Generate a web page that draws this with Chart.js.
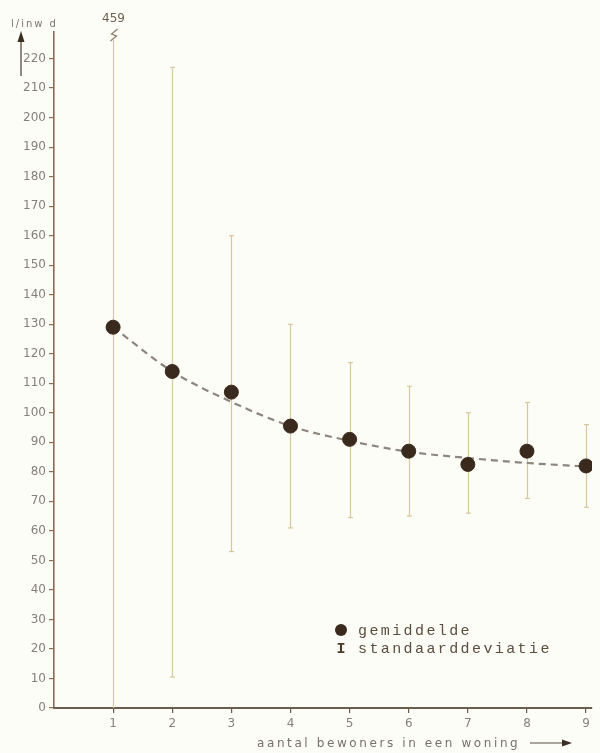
<!DOCTYPE html>
<html>
<head>
<meta charset="utf-8">
<script src="https://cdn.jsdelivr.net/npm/chart.js@4.4.1/dist/chart.umd.min.js"></script>
<style>
  html, body { margin: 0; padding: 0; background: #fdfdf8; }
  #wrap { position: relative; width: 600px; height: 753px; }
</style>
</head>
<body>
<div id="wrap"><canvas id="c" width="600" height="753"></canvas></div>
<script>
// Water use per inhabitant per day, by number of residents in a dwelling
const residents   = [1, 2, 3, 4, 5, 6, 7, 8, 9];
const meanUse     = [129, 114, 107, 95.5, 91, 87, 82.5, 87, 82];
const sdUpper     = [459, 217, 160, 130, 117, 109, 100, 103.5, 96];
const sdLower     = [0, 10.5, 53, 61, 64.5, 65, 66, 71, 68];
const trendLine   = [129, 114, 103.7, 95.5, 90.5, 86.8, 84.7, 83, 81.8];
const yTickValues = [0, 10, 20, 30, 40, 50, 60, 70, 80, 90, 100, 110, 120, 130, 140, 150, 160, 170, 180, 190, 200, 210, 220];
const xTickValues = [1, 2, 3, 4, 5, 6, 7, 8, 9];

const yAxisLabel = 'l/inw d';
const xAxisLabel = 'aantal bewoners in een woning';
const legendMean = 'gemiddelde';
const legendSd   = 'standaarddeviatie';

const ink      = '#3a2a1e';
const barColor = '#d6c79c';
const tickGray = '#86807a';

// Vertical standard-deviation bars, clipped at the top of the plot with a break mark
const errorBars = {
  id: 'errorBars',
  beforeDatasetsDraw(chart) {
    const { ctx, chartArea, scales: { x, y } } = chart;
    ctx.save();
    ctx.strokeStyle = barColor;
    ctx.lineWidth = 1.2;
    residents.forEach((r, i) => {
      const px = Math.round(x.getPixelForValue(r)) + 0.5;
      const clipped = sdUpper[i] > y.max;
      const top = clipped ? chartArea.top + 8 : y.getPixelForValue(sdUpper[i]);
      const bot = y.getPixelForValue(Math.max(sdLower[i], y.min));
      ctx.beginPath();
      ctx.moveTo(px, top);
      ctx.lineTo(px, bot);
      ctx.stroke();
      if (!clipped) {
        ctx.beginPath();
        ctx.moveTo(px - 2.5, top); ctx.lineTo(px + 2.5, top);
        ctx.stroke();
      } else {
        // break mark and the true value written above it
        ctx.save();
        ctx.strokeStyle = '#8a7a66';
        ctx.lineWidth = 1.2;
        ctx.beginPath();
        ctx.moveTo(px - 3, top + 1);
        ctx.lineTo(px + 3, top - 4);
        ctx.lineTo(px - 2, top - 6);
        ctx.lineTo(px + 4, top - 11);
        ctx.stroke();
        ctx.fillStyle = '#6d5f50';
        ctx.font = '12px "DejaVu Sans"';
        ctx.textAlign = 'center';
        ctx.textBaseline = 'middle';
        ctx.fillText(String(sdUpper[i]), px, top - 21);
        ctx.restore();
      }
      if (sdLower[i] > y.min) {
        ctx.beginPath();
        ctx.moveTo(px - 2.5, bot); ctx.lineTo(px + 2.5, bot);
        ctx.stroke();
      }
    });
    ctx.restore();
  }
};

// Axis captions, arrows and the legend box
const annotations = {
  id: 'annotations',
  afterDraw(chart) {
    const { ctx } = chart;
    ctx.save();
    // y-axis caption with upward arrow
    ctx.fillStyle = '#7d746a';
    ctx.font = '10px "DejaVu Sans"';
    ctx.textBaseline = 'middle';
    ctx.textAlign = 'left';
    ctx.letterSpacing = '2px';
    ctx.fillText(yAxisLabel, 11, 24);
    ctx.strokeStyle = '#4a3c30';
    ctx.fillStyle = '#3a2e24';
    ctx.lineWidth = 1.2;
    ctx.beginPath();
    ctx.moveTo(21, 40); ctx.lineTo(21, 76);
    ctx.stroke();
    ctx.beginPath();
    ctx.moveTo(21, 31); ctx.lineTo(17.5, 42); ctx.lineTo(24.5, 42); ctx.closePath();
    ctx.fill();

    // x-axis caption with arrow
    ctx.fillStyle = '#77706a';
    ctx.font = '12px "DejaVu Sans"';
    ctx.letterSpacing = '2.6px';
    ctx.fillText(xAxisLabel, 257, 744);
    ctx.strokeStyle = '#5a4c40';
    ctx.lineWidth = 1.2;
    ctx.beginPath();
    ctx.moveTo(530, 743); ctx.lineTo(566, 743);
    ctx.stroke();
    ctx.fillStyle = '#3a2e24';
    ctx.beginPath();
    ctx.moveTo(572, 743); ctx.lineTo(562, 739.5); ctx.lineTo(562, 746.5); ctx.closePath();
    ctx.fill();

    // legend
    ctx.fillStyle = ink;
    ctx.beginPath();
    ctx.arc(341, 630, 6, 0, Math.PI * 2);
    ctx.fill();
    ctx.font = '15px "Liberation Mono"';
    ctx.letterSpacing = '2.4px';
    ctx.fillStyle = '#5b4d40';
    ctx.fillText(legendMean, 358, 631);
    ctx.fillText(legendSd, 358, 649);
    ctx.font = 'bold 15px "Liberation Mono"';
    ctx.letterSpacing = '0px';
    ctx.fillStyle = '#4a3c30';
    ctx.textAlign = 'center';
    ctx.fillText('I', 341, 649);
    ctx.restore();
  }
};

new Chart(document.getElementById('c'), {
  type: 'scatter',
  data: {
    datasets: [
      {
        label: 'trend',
        data: residents.map((r, i) => ({ x: r, y: trendLine[i] })),
        showLine: true,
        borderColor: '#8d867e',
        borderWidth: 2.2,
        borderDash: [7, 5],
        cubicInterpolationMode: 'monotone',
        pointRadius: 0,
        order: 2
      },
      {
        label: legendMean,
        data: residents.map((r, i) => ({ x: r, y: meanUse[i] })),
        showLine: false,
        pointRadius: 7,
        pointBackgroundColor: ink,
        pointBorderColor: ink,
        order: 1
      }
    ]
  },
  options: {
    responsive: false,
    animation: false,
    events: [],
    layout: { padding: { top: 32, left: 0, right: 0, bottom: 0 } },
    plugins: { legend: { display: false }, tooltip: { enabled: false } },
    scales: {
      x: {
        type: 'linear',
        min: 0,
        max: 9.1,
        afterBuildTicks(scale) { scale.ticks = xTickValues.map(v => ({ value: v })); },
        afterFit(scale) { scale.height = 45; },
        grid: { display: true, drawOnChartArea: false, drawTicks: true, tickLength: 5, color: '#6a5a4c', lineWidth: 1.2 },
        border: { display: true, color: '#6e5c4e', width: 2 },
        ticks: { color: tickGray, font: { family: 'DejaVu Sans', size: 12 }, padding: 4, maxRotation: 0 }
      },
      y: {
        type: 'linear',
        min: 0,
        max: 229,
        afterBuildTicks(scale) { scale.ticks = yTickValues.map(v => ({ value: v })); },
        afterFit(scale) { scale.width = 54; },
        grid: { display: true, drawOnChartArea: false, drawTicks: true, tickLength: 5, color: '#8b6d58', lineWidth: 1.2 },
        border: { display: true, color: '#8b6a55', width: 1.6 },
        ticks: { color: tickGray, font: { family: 'DejaVu Sans', size: 12 }, padding: 3 }
      }
    }
  },
  plugins: [errorBars, annotations]
});
</script>
</body>
</html>
